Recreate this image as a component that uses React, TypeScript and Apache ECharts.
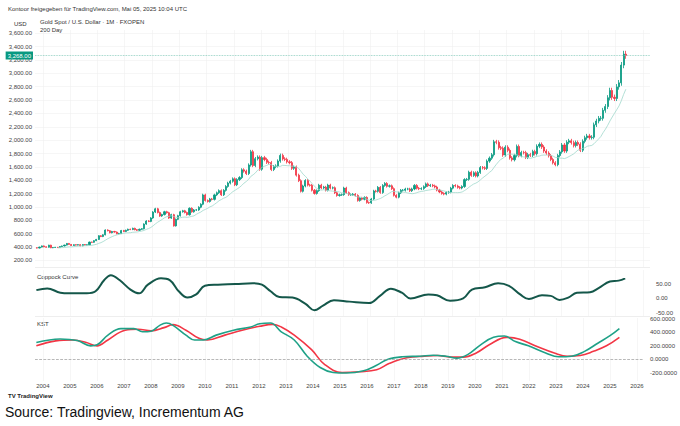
import React, { useEffect, useRef } from 'react'
import * as echarts from 'echarts'

// monthly gold closes, Oct 2003 .. May 2025
const startYear = 2003
const startMonth = 10
const closes = [
  384, 398, 416,
  402, 396, 427, 388, 393, 395, 391, 407, 415, 428, 453, 438,
  422, 434, 428, 435, 417, 436, 429, 433, 473, 470, 495, 513,
  568, 556, 582, 654, 643, 613, 632, 623, 598, 603, 646, 632,
  650, 665, 662, 679, 659, 650, 665, 673, 743, 789, 783, 834,
  923, 972, 916, 864, 885, 928, 913, 833, 884, 716, 814, 869,
  928, 942, 916, 883, 979, 927, 954, 955, 995, 1040, 1180, 1096,
  1081, 1118, 1113, 1180, 1212, 1244, 1181, 1248, 1307, 1357, 1384, 1421,
  1332, 1409, 1439, 1556, 1536, 1500, 1628, 1827, 1620, 1722, 1746, 1565,
  1738, 1710, 1668, 1664, 1560, 1604, 1614, 1687, 1772, 1719, 1712, 1675,
  1663, 1578, 1596, 1476, 1393, 1234, 1313, 1395, 1327, 1323, 1250, 1202,
  1244, 1326, 1284, 1296, 1250, 1327, 1282, 1287, 1211, 1171, 1182, 1184,
  1283, 1213, 1183, 1184, 1190, 1172, 1095, 1134, 1115, 1142, 1065, 1061,
  1118, 1238, 1233, 1293, 1215, 1322, 1351, 1309, 1316, 1273, 1173, 1146,
  1211, 1249, 1249, 1268, 1268, 1242, 1269, 1322, 1280, 1271, 1275, 1303,
  1345, 1318, 1325, 1315, 1298, 1252, 1224, 1201, 1192, 1215, 1222, 1281,
  1321, 1313, 1292, 1283, 1305, 1409, 1413, 1520, 1472, 1511, 1464, 1517,
  1589, 1585, 1577, 1686, 1730, 1781, 1975, 1968, 1886, 1879, 1777, 1895,
  1847, 1734, 1707, 1769, 1906, 1770, 1814, 1813, 1743, 1783, 1774, 1829,
  1797, 1909, 1937, 1897, 1837, 1807, 1766, 1711, 1661, 1633, 1769, 1824,
  1928, 1837, 1969, 1990, 1963, 1919, 1965, 1940, 1849, 1983, 2036, 2063,
  2039, 2044, 2230, 2286, 2327, 2327, 2447, 2503, 2635, 2744, 2643, 2625,
  2798, 2858, 3124, 3289, 3268,
]
const firstOpen = 388

const coppockYears = [2003.76, 2004.16, 2004.64, 2004.96, 2005.61, 2005.93, 2006.25, 2006.49, 2006.81, 2007.21, 2007.53, 2007.85, 2008.33, 2008.65, 2008.98, 2009.30, 2009.62, 2009.94, 2010.42, 2011.06, 2011.70, 2012.03, 2012.35, 2012.67, 2013.15, 2013.63, 2013.95, 2014.27, 2014.67, 2015.24, 2015.96, 2016.36, 2016.76, 2017.16, 2017.48, 2018.13, 2018.45, 2018.93, 2019.41, 2019.73, 2020.21, 2020.69, 2021.09, 2021.50, 2021.82, 2022.30, 2022.62, 2022.94, 2023.26, 2023.58, 2024.06, 2024.39, 2024.79, 2025.11, 2025.35]
const coppockValues = [28, 34, 19, 17, 17, 24, 63, 80, 63, 30, 17, 47, 69, 63, 24, 2, 13, 43, 47, 49, 52, 47, 24, 4, 2, -20, -42, -26, -7, -12, -17, 8, 33, 19, -1, 13, 10, -9, -1, 30, 38, 52, 43, 13, -3, 10, 8, -6, 2, 19, 21, 36, 58, 61, 69]

const kstYears = [2003.76, 2004.64, 2005.28, 2005.77, 2006.01, 2006.41, 2006.89, 2007.37, 2007.69, 2008.01, 2008.33, 2008.57, 2008.82, 2009.30, 2009.62, 2009.94, 2010.42, 2011.06, 2011.70, 2012.03, 2012.43, 2012.83, 2013.31, 2013.79, 2014.27, 2014.75, 2015.24, 2015.88, 2016.36, 2016.76, 2017.32, 2017.96, 2018.45, 2018.93, 2019.33, 2019.73, 2020.21, 2020.69, 2021.09, 2021.50, 2021.98, 2022.62, 2023.10, 2023.58, 2024.06, 2024.55, 2025.03, 2025.35]
const kstValues = [250, 304, 280, 202, 217, 361, 458, 458, 410, 419, 506, 540, 506, 361, 289, 289, 361, 434, 482, 530, 540, 410, 289, 48, -120, -193, -202, -169, -87, 0, 39, 48, 63, 48, 19, 72, 217, 328, 347, 265, 202, 96, 39, 48, 120, 241, 361, 458]

const signalYears = [2003.76, 2004.48, 2005.12, 2005.61, 2006.01, 2006.41, 2007.05, 2007.53, 2008.01, 2008.49, 2008.82, 2009.30, 2009.78, 2010.10, 2010.74, 2011.38, 2012.03, 2012.51, 2012.83, 2013.31, 2013.95, 2014.43, 2015.08, 2015.72, 2016.36, 2016.84, 2017.48, 2018.13, 2018.61, 2019.09, 2019.57, 2020.05, 2020.53, 2021.17, 2021.66, 2022.30, 2022.94, 2023.42, 2023.90, 2024.39, 2024.87, 2025.35]
const signalValues = [202, 275, 289, 250, 202, 289, 434, 448, 424, 472, 516, 434, 313, 289, 361, 434, 492, 520, 482, 361, 145, -72, -193, -183, -154, -58, 24, 48, 58, 34, 34, 96, 217, 328, 299, 193, 96, 48, 58, 120, 202, 328]

const yearTicks = [2004, 2005, 2006, 2007, 2008, 2009, 2010, 2011, 2012, 2013, 2014, 2015, 2016, 2017, 2018, 2019, 2020, 2021, 2022, 2023, 2024, 2025, 2026]
const priceTicks = [200, 400, 600, 800, 1000, 1200, 1400, 1600, 1800, 2000, 2200, 2400, 2600, 2800, 3000, 3200, 3400, 3600]
const coppockTicks = [-50, 0, 50]
const kstTicks = [-200, 0, 200, 400, 600]

const UP = '#089981'
const DOWN = '#f23645'
const fmtPrice = (v: number) => v.toLocaleString('en-US', { minimumFractionDigits: 2, maximumFractionDigits: 2 })

export default function App() {
  const ref = useRef<HTMLDivElement>(null)

  useEffect(() => {
    document.body.style.margin = '0'
    if (!ref.current) return
    const chart = echarts.init(ref.current, null, { renderer: 'svg' })

    const candles: number[][] = []
    const ma: number[][] = []
    closes.forEach((c, i) => {
      const m = startMonth - 1 + i
      const x = startYear + Math.floor(m / 12) + ((m % 12) + 0.5) / 12
      const o = i === 0 ? firstOpen : closes[i - 1]
      candles.push([x, o, c, Math.min(o, c) * 0.985, Math.max(o, c) * 1.015])
      if (i >= 9) {
        const s = closes.slice(i - 9, i + 1).reduce((a, b) => a + b, 0) / 10
        ma.push([x, s * 0.97])
      }
    })
    const last = closes[closes.length - 1]

    const axisText = { color: '#444', fontSize: 6, fontFamily: 'Arial, Liberation Sans' }
    const grid = { lineStyle: { color: '#f0f0f0', width: 0.6 } }
    const xBase = (i: number, show: boolean) => ({
      type: 'value' as const, gridIndex: i, min: 2003.71, max: 2026.26,
      axisLine: { show: false }, axisTick: { show: false, customValues: yearTicks },
      axisLabel: { show, customValues: yearTicks, ...axisText, margin: 2, formatter: (v: number) => String(v) },
      splitLine: { show: true, ...grid },
    })
    const pair = (ys: number[], vs: number[]) => ys.map((y, i) => [y, vs[i]])

    chart.setOption({
      animation: false,
      textStyle: { fontFamily: 'Arial, Liberation Sans' },
      grid: [
        { left: 35, right: 30, top: 30, height: 237 },
        { left: 35, right: 30, top: 270, height: 46 },
        { left: 35, right: 30, top: 318, height: 63 },
      ],
      xAxis: [xBase(0, false), xBase(1, false), xBase(2, true)],
      yAxis: [
        {
          type: 'value', gridIndex: 0, position: 'left', min: 100, max: 3650,
          axisLine: { show: false }, axisTick: { show: false, customValues: priceTicks },
          axisLabel: { customValues: priceTicks, ...axisText, margin: 3, formatter: fmtPrice },
          splitLine: { show: true, ...grid },
        },
        {
          type: 'value', gridIndex: 1, position: 'right', min: -62, max: 98,
          axisLine: { show: false }, axisTick: { show: false, customValues: coppockTicks },
          axisLabel: { customValues: coppockTicks, ...axisText, margin: 6, formatter: (v: number) => v.toFixed(2) },
          splitLine: { show: false },
        },
        {
          type: 'value', gridIndex: 2, position: 'right', min: -320, max: 615,
          axisLine: { show: false }, axisTick: { show: false, customValues: kstTicks },
          axisLabel: { customValues: kstTicks, ...axisText, margin: 6, formatter: (v: number) => v.toFixed(4) },
          splitLine: { show: false },
        },
      ],
      series: [
        {
          type: 'candlestick', xAxisIndex: 0, yAxisIndex: 0, data: candles, barWidth: 1.6,
          encode: { x: 0, y: [1, 2, 3, 4] },
          itemStyle: { color: UP, color0: DOWN, borderColor: UP, borderColor0: DOWN, borderWidth: 0.8 },
          markLine: {
            symbol: 'none', silent: true,
            lineStyle: { color: '#7fc8b8', type: 'dotted', width: 0.8 },
            label: {
              position: 'start', formatter: fmtPrice(last), color: '#fff', backgroundColor: UP,
              fontSize: 6, padding: [1, 2], distance: 2,
            },
            data: [{ yAxis: last }],
          },
        },
        {
          type: 'line', xAxisIndex: 0, yAxisIndex: 0, data: ma, showSymbol: false,
          lineStyle: { color: '#9fd8cc', width: 0.8 },
        },
        {
          type: 'line', xAxisIndex: 1, yAxisIndex: 1, data: pair(coppockYears, coppockValues),
          showSymbol: false, smooth: 0.4, lineStyle: { color: '#14574a', width: 2 },
        },
        {
          type: 'line', xAxisIndex: 2, yAxisIndex: 2, data: pair(signalYears, signalValues),
          showSymbol: false, smooth: 0.4, lineStyle: { color: DOWN, width: 1.6 },
          markLine: {
            symbol: 'none', silent: true, label: { show: false },
            lineStyle: { color: '#999', type: 'dashed', width: 0.7 }, data: [{ yAxis: 0 }],
          },
        },
        {
          type: 'line', xAxisIndex: 2, yAxisIndex: 2, data: pair(kstYears, kstValues),
          showSymbol: false, smooth: 0.4, lineStyle: { color: '#1fa187', width: 1.6 },
        },
      ],
      graphic: [
        { type: 'text', left: 8, top: 6, style: { text: 'Kontoor freigegeben für TradingView.com, Mai 05, 2025 10:04 UTC', fontSize: 6, fill: '#333' } },
        { type: 'text', left: 14, top: 21, style: { text: 'USD', fontSize: 6, fill: '#333' } },
        { type: 'text', left: 40, top: 19, style: { text: 'Gold Spot / U.S. Dollar · 1M · FXOPEN', fontSize: 6, fill: '#333' } },
        { type: 'text', left: 40, top: 27, style: { text: '200 Day', fontSize: 6, fill: '#333' } },
        { type: 'rect', shape: { x: 35, y: 267.5, width: 615, height: 0.6 }, style: { fill: '#ddd' } },
        { type: 'rect', shape: { x: 35, y: 316.5, width: 615, height: 0.6 }, style: { fill: '#ddd' } },
        { type: 'text', left: 37, top: 274, style: { text: 'Coppock Curve', fontSize: 6, fill: '#333' } },
        { type: 'text', left: 37, top: 321, style: { text: 'KST', fontSize: 6, fill: '#333' } },
        { type: 'text', left: 8, top: 393, style: { text: 'TV TradingView', fontSize: 6, fill: '#222', fontWeight: 'bold' } },
        { type: 'text', left: 5, top: 405, style: { text: 'Source: Tradingview, Incrementum AG', fontSize: 14, fill: '#111', fontFamily: 'Liberation Sans, Arial' } },
      ],
    })
    return () => chart.dispose()
  }, [])

  return <div ref={ref} style={{ width: 680, height: 426 }} />
}
